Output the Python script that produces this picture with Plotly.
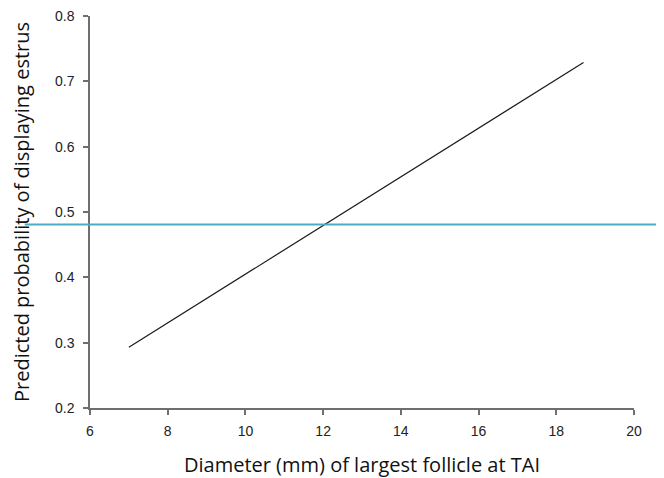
import plotly.graph_objects as go

# Data
diameter_mm = [7.0, 18.7]
predicted_prob = [0.293, 0.729]
reference_prob = 0.481

x_ticks = [6, 8, 10, 12, 14, 16, 18, 20]
y_ticks = [0.2, 0.3, 0.4, 0.5, 0.6, 0.7, 0.8]

fig = go.Figure()
fig.add_trace(go.Scatter(
    x=diameter_mm, y=predicted_prob, mode="lines",
    line=dict(color="#1a1a1a", width=1.2), showlegend=False, hoverinfo="skip"))

fig.add_shape(type="line", xref="paper", yref="y",
              x0=-0.12, x1=1.07, y0=reference_prob, y1=reference_prob,
              line=dict(color="#4BACC6", width=2), layer="above")

tick_font = dict(family="Liberation Sans, Arial, sans-serif", size=14, color="#222222")
title_font = dict(family="Open Sans, sans-serif", size=20, color="#111111")

fig.update_layout(
    width=664, height=478,
    margin=dict(l=82, r=38, t=8, b=78),
    paper_bgcolor="white", plot_bgcolor="white",
    xaxis=dict(range=[6, 20], tickvals=x_ticks, ticktext=[str(v) for v in x_ticks],
               showgrid=False, zeroline=False, showline=True, linecolor="#6e6e6e",
               linewidth=1.5, ticks="outside", ticklen=5, tickcolor="#6e6e6e",
               tickwidth=1.5, tickfont=tick_font, automargin=False,
               ticklabelstandoff=4, ticklabeloverflow="allow",
               title=dict(text="Diameter (mm) of largest follicle at TAI",
                          font=title_font, standoff=20)),
    yaxis=dict(range=[0.2, 0.8], tickvals=y_ticks, ticktext=[f"{v:.1f}" for v in y_ticks],
               showgrid=False, zeroline=False, showline=True, linecolor="#6e6e6e",
               linewidth=1.5, ticks="outside", ticklen=5, tickcolor="#6e6e6e",
               tickwidth=1.5, tickfont=tick_font, automargin=False,
               ticklabelstandoff=6, ticklabeloverflow="allow",
               title=dict(text="Predicted probability of displaying estrus",
                          font=title_font, standoff=20)),
)

fig.write_html("out.html")
